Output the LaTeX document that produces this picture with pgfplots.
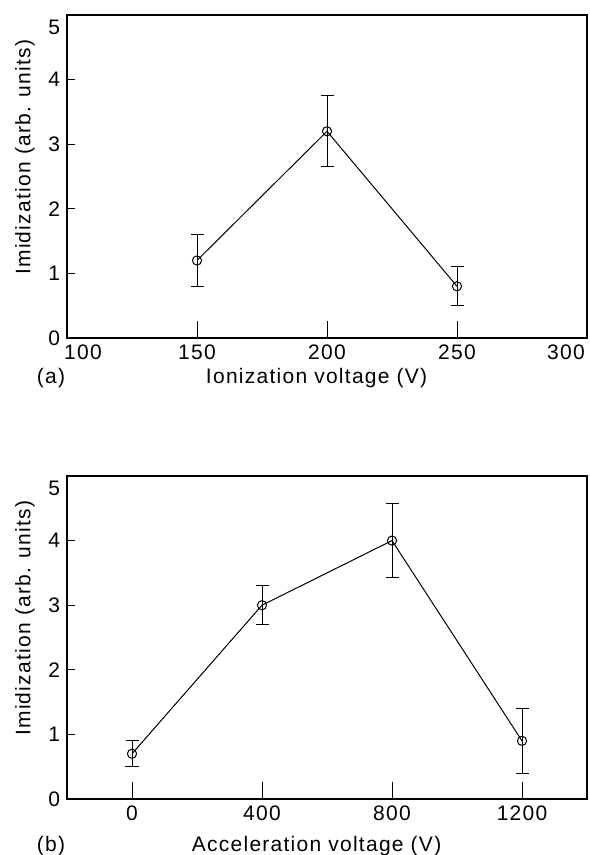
\documentclass[border=0pt]{standalone}
\usepackage{fontspec}
\setmainfont[LetterSpace=6]{Liberation Sans}
\usepackage{pgfplots}
\pgfplotsset{compat=1.18}

\pgfplotsset{
  panel/.style={
    scale only axis,
    width=260pt, height=161.5pt,
    ymin=0, ymax=5,
    ytick={0,1,2,3,4},
    extra y ticks={5},
    extra y tick style={yticklabel style={yshift=-6pt}},
    tick pos=left, tick align=inside,
    major tick length=4pt,
    xtick style={/pgfplots/major tick length=8.5pt},
    axis line style={line width=0.7pt},
    tick style={line width=0.5pt, black},
    /pgf/number format/assume math mode=true,
    /pgf/number format/1000 sep={},
    ylabel={Imidization (arb. units)},
    ylabel style={at={(axis description cs:-0.081,0.56)}, anchor=center},
    xlabel style={at={(axis description cs:0.48,0)}, anchor=base},
    font=\fontsize{10.5pt}{12pt}\selectfont,
  },
  pts/.style={
    black, line width=0.5pt, mark=o, mark size=2.3pt,
    mark options={line width=0.5pt},
    error bars/.cd, y dir=both, y explicit,
    error mark options={rotate=90, mark size=3.25pt, line width=0.5pt, black},
  },
}

\begin{document}
\begin{tikzpicture}
\path[use as bounding box] (-33.5pt,-258.5pt) rectangle (261pt,169pt);

% (a) ionization voltage
\begin{axis}[panel,
  at={(0,0)}, anchor=south west,
  xmin=100, xmax=300,
  xtick={100,150,200,250,300},
  xticklabels={\kern16pt 100,150,200,250,300\kern21pt},
  xlabel={Ionization voltage (V)},
  xlabel style={yshift=-23pt},
]
\addplot[pts] coordinates {
  (150,1.2) +- (0,0.4)
  (200,3.2) +- (0,0.55)
  (250,0.8) +- (0,0.3)
};
\end{axis}
\node[anchor=base, font=\fontsize{10.5pt}{12pt}\selectfont] at (-8pt,-23pt) {(a)};

% (b) acceleration voltage
\begin{axis}[panel,
  at={(0,-230.5pt)}, anchor=south west,
  xmin=-200, xmax=1400,
  xtick={0,400,800,1200},
  xlabel={Acceleration voltage (V)},
  xlabel style={yshift=-26pt},
]
\addplot[pts] coordinates {
  (0,0.7) +- (0,0.2)
  (400,3.0) +- (0,0.3)
  (800,4.0) +- (0,0.57)
  (1200,0.9) +- (0,0.5)
};
\end{axis}
\node[anchor=base, font=\fontsize{10.5pt}{12pt}\selectfont] at (-8pt,-256.5pt) {(b)};
\end{tikzpicture}
\end{document}
